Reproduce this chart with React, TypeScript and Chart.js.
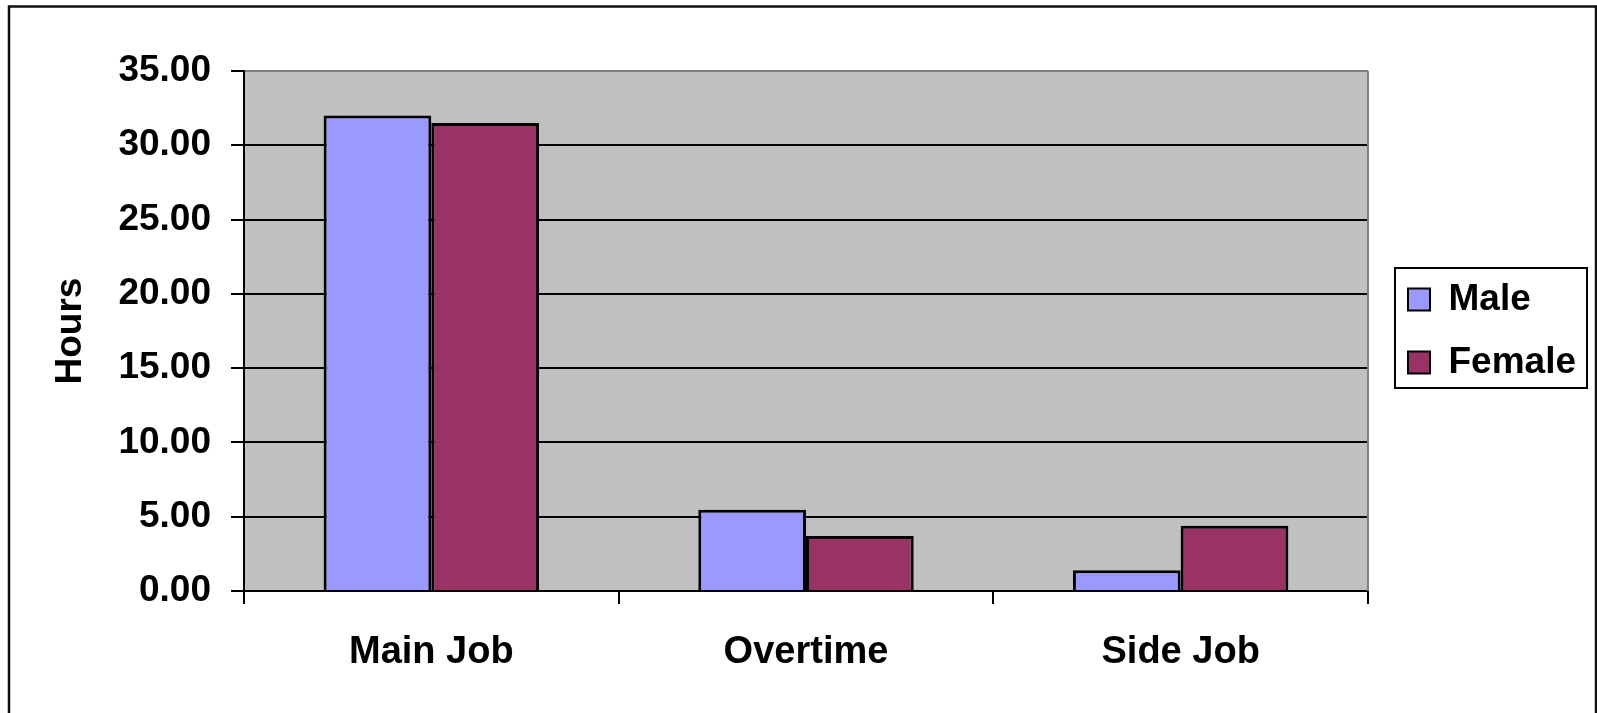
import React, { useEffect, useRef } from "react";
import { Chart, registerables } from "chart.js";

Chart.register(...registerables);

const categories = ["Main Job", "Overtime", "Side Job"];
const seriesNames = ["Male", "Female"];
const maleHours = [32.0, 5.47, 1.4];
const femaleHours = [31.5, 3.7, 4.4];
const yTickValues = [0, 5, 10, 15, 20, 25, 30, 35];
const yTitle = "Hours";

const FONT = '"Liberation Sans", Arial, sans-serif';
const MALE_COLOR = "#9999FF";
const FEMALE_COLOR = "#993366";
const PLOT_BG = "#C0C0C0";

const framePlugin = {
  id: "framePlugin",
  beforeDraw(chart: any) {
    const { ctx, chartArea } = chart;
    ctx.save();
    ctx.fillStyle = "#FFFFFF";
    ctx.fillRect(0, 0, chart.width, chart.height);
    ctx.strokeStyle = "#111111";
    ctx.lineWidth = 2.5;
    ctx.strokeRect(9, 6.5, 1587, 800);
    ctx.fillStyle = PLOT_BG;
    ctx.fillRect(
      chartArea.left,
      chartArea.top,
      chartArea.right - chartArea.left,
      chartArea.bottom - chartArea.top
    );
    ctx.restore();
  },
  beforeDatasetsDraw(chart: any) {
    const { ctx, chartArea } = chart;
    ctx.save();
    ctx.strokeStyle = "#808080";
    ctx.lineWidth = 2;
    ctx.beginPath();
    ctx.moveTo(chartArea.right, chartArea.top);
    ctx.lineTo(chartArea.right, chartArea.bottom);
    ctx.stroke();
    ctx.restore();
  },
  afterDraw(chart: any) {
    const lg = chart.legend;
    if (!lg || !lg.legendHitBoxes || !lg.legendHitBoxes.length) return;
    const hb = lg.legendHitBoxes;
    const first = hb[0];
    const last = hb[hb.length - 1];
    const x0 = first.left - 13;
    const y0 = first.top - 13;
    const x1 = lg.right + 1;
    const y1 = last.top + last.height + 7;
    const { ctx } = chart;
    ctx.save();
    ctx.strokeStyle = "#000000";
    ctx.lineWidth = 2;
    ctx.strokeRect(x0, y0, x1 - x0, y1 - y0);
    ctx.restore();
  },
};

export default function App() {
  const canvasRef = useRef<HTMLCanvasElement | null>(null);

  useEffect(() => {
    if (!canvasRef.current) return;
    const chart = new Chart(canvasRef.current, {
      type: "bar",
      data: {
        labels: categories,
        datasets: [
          {
            label: seriesNames[0],
            data: maleHours,
            backgroundColor: MALE_COLOR,
            borderColor: "#000000",
            borderWidth: 3,
            borderSkipped: "bottom",
            categoryPercentage: 0.575,
            barPercentage: 1.0,
          },
          {
            label: seriesNames[1],
            data: femaleHours,
            backgroundColor: FEMALE_COLOR,
            borderColor: "#000000",
            borderWidth: 3,
            borderSkipped: "bottom",
            categoryPercentage: 0.575,
            barPercentage: 1.0,
          },
        ],
      },
      options: {
        responsive: false,
        animation: false,
        devicePixelRatio: 1,
        layout: { padding: { top: 71, right: 11, bottom: 0, left: 0 } },
        plugins: {
          tooltip: { enabled: false },
          title: { display: false },
          legend: {
            display: true,
            position: "right",
            fullSize: false,
            labels: {
              boxWidth: 22,
              boxHeight: 22,
              padding: 26,
              color: "#000000",
              font: { family: FONT, size: 37, weight: "bold" },
              generateLabels: (chart: any) =>
                chart.data.datasets.map((ds: any, i: number) => ({
                  text: ds.label,
                  fillStyle: ds.backgroundColor,
                  strokeStyle: "#000000",
                  lineWidth: 2,
                  fontColor: "#000000",
                  hidden: false,
                  datasetIndex: i,
                })),
            },
          },
        },
        scales: {
          x: {
            offset: true,
            grid: {
              offset: true,
              drawOnChartArea: false,
              drawTicks: true,
              tickLength: 13,
              tickColor: "#000000",
              tickWidth: 2,
              color: "#000000",
              lineWidth: 2,
            },
            border: { display: true, color: "#000000", width: 2 },
            ticks: {
              color: "#000000",
              font: { family: FONT, size: 38, weight: "bold" },
              padding: 26,
              maxRotation: 0,
              autoSkip: false,
            },
            afterFit: (s: any) => {
              s.height = 122;
            },
          },
          y: {
            min: 0,
            max: 35,
            afterBuildTicks: (s: any) => {
              s.ticks = yTickValues.map((v) => ({ value: v }));
            },
            grid: {
              color: (ctx: any) =>
                ctx.tick && ctx.tick.value === 35 ? "#808080" : "#000000",
              lineWidth: 2,
              tickLength: 13,
              tickColor: "#000000",
              tickWidth: 2,
            },
            border: { display: true, color: "#000000", width: 2 },
            ticks: {
              color: "#000000",
              font: { family: FONT, size: 37, weight: "bold" },
              padding: 20,
              callback: (v: any) => Number(v).toFixed(2),
            },
            title: {
              display: true,
              text: yTitle,
              color: "#000000",
              font: { family: FONT, size: 37, weight: "bold" },
              padding: { top: 49, bottom: 0 },
            },
            afterFit: (s: any) => {
              s.width = 244;
            },
          },
          y2: {
            type: "linear",
            position: "right",
            display: true,
            grid: { display: false },
            border: { display: false },
            ticks: { display: false },
            afterFit: (s: any) => {
              s.width = 14;
            },
          },
        },
      } as any,
      plugins: [framePlugin],
    });
    return () => chart.destroy();
  }, []);

  return (
    <div
      style={{
        position: "fixed",
        left: 0,
        top: 0,
        width: 1597,
        height: 713,
        background: "#FFFFFF",
      }}
    >
      <canvas
        ref={canvasRef}
        width={1597}
        height={713}
        style={{ display: "block", width: 1597, height: 713 }}
      />
    </div>
  );
}
